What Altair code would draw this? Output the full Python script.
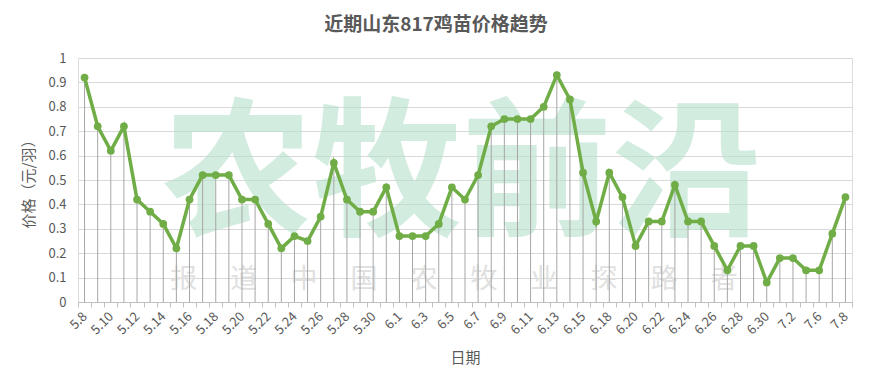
import altair as alt
import pandas as pd

dates = ["5.8", "5.9", "5.10", "5.11", "5.12", "5.13", "5.14", "5.15", "5.16", "5.17",
         "5.18", "5.19", "5.20", "5.21", "5.22", "5.23", "5.24", "5.25", "5.26", "5.27",
         "5.28", "5.29", "5.30", "5.31",
         "6.1", "6.2", "6.3", "6.4", "6.5", "6.6", "6.7", "6.8", "6.9", "6.10",
         "6.11", "6.12", "6.13", "6.14", "6.15", "6.16",
         "6.18", "6.19", "6.20", "6.21", "6.22", "6.23", "6.24", "6.25", "6.26", "6.27",
         "6.28", "6.29", "6.30",
         "7.1", "7.2", "7.4", "7.6", "7.7", "7.8"]

prices = [0.92, 0.72, 0.62, 0.72, 0.42, 0.37, 0.32, 0.22, 0.42, 0.52,
          0.52, 0.52, 0.42, 0.42, 0.32, 0.22, 0.27, 0.25, 0.35, 0.57,
          0.42, 0.37, 0.37, 0.47,
          0.27, 0.27, 0.27, 0.32, 0.47, 0.42, 0.52, 0.72, 0.75, 0.75,
          0.75, 0.80, 0.93, 0.83, 0.53, 0.33,
          0.53, 0.43, 0.23, 0.33, 0.33, 0.48, 0.33, 0.33, 0.23, 0.13,
          0.23, 0.23, 0.08,
          0.18, 0.18, 0.13, 0.13, 0.28, 0.43]

tick_labels = ["5.8", "5.10", "5.12", "5.14", "5.16", "5.18", "5.20", "5.22", "5.24",
               "5.26", "5.28", "5.30", "6.1", "6.3", "6.5", "6.7", "6.9", "6.11",
               "6.13", "6.15", "6.18", "6.20", "6.22", "6.24", "6.26", "6.28",
               "6.30", "7.2", "7.6", "7.8"]

y_ticks = [0, 0.1, 0.2, 0.3, 0.4, 0.5, 0.6, 0.7, 0.8, 0.9, 1.0]

title_text = "近期山东817鸡苗价格趋势"
y_title = "价格（元/羽）"
x_title = "日期"
watermark_big = "农牧前沿"
watermark_small = "　 ".join(list("报道中国农牧业探路者"))

df = pd.DataFrame({"date": dates, "price": prices, "zero": [0.0] * len(dates)})
wm_df = pd.DataFrame({"big": [watermark_big], "small": [watermark_small]})

FONT = "Noto Sans CJK SC"
GREEN = "#70ad47"
TEXT = "#595959"

label_list = ",".join("'" + t + "'" for t in tick_labels)
label_expr = f"indexof([{label_list}], datum.label) >= 0 ? datum.label : ''"

x_enc = alt.X(
    "date:N",
    sort=dates,
    scale=alt.Scale(type="band", paddingInner=0, paddingOuter=0),
    axis=alt.Axis(
        title=x_title,
        labelAngle=-45,
        labelAlign="right",
        labelBaseline="middle",
        labelExpr=label_expr,
        labelFontSize=13,
        labelColor=TEXT,
        labelPadding=7,
        labelFont=FONT,
        tickBand="extent",
        tickColor="#bfbfbf",
        tickSize=5,
        domainColor="#bfbfbf",
        grid=False,
        titleFontSize=15,
        titleFontWeight="normal",
        titleColor=TEXT,
        titleFont=FONT,
        titlePadding=14,
    ),
)

y_enc = alt.Y(
    "price:Q",
    scale=alt.Scale(domain=[0, 1]),
    axis=alt.Axis(
        title=y_title,
        values=y_ticks,
        labelExpr="format(datum.value, '.1~f')",
        labelFontSize=13,
        labelColor=TEXT,
        labelFont=FONT,
        labelPadding=12,
        ticks=False,
        domain=False,
        gridColor="#d9d9d9",
        titleFontSize=15,
        titleFontWeight="normal",
        titleColor=TEXT,
        titleFont=FONT,
        titlePadding=11,
    ),
)

base = alt.Chart(df)

wm_big = alt.Chart(wm_df).mark_text(
    font=FONT, fontSize=150, fontWeight="bold",
    color="#b5e0cb", opacity=0.6, align="center", baseline="middle"
).encode(text="big:N", x=alt.value(384), y=alt.value(121))

wm_small = alt.Chart(wm_df).mark_text(
    font=FONT, fontSize=27,
    color="#e0e0e0", align="center", baseline="middle"
).encode(text="small:N", x=alt.value(376), y=alt.value(222))

rules = base.mark_rule(color="#a6a6a6", strokeWidth=1).encode(
    x=x_enc, y=y_enc, y2="zero:Q"
)

line = base.mark_line(color=GREEN, strokeWidth=3.5).encode(x=x_enc, y=y_enc)

points = base.mark_circle(color=GREEN, size=60, opacity=1).encode(x=x_enc, y=y_enc)

chart = alt.layer(wm_big, wm_small, rules, line, points).properties(
    width=774,
    height=244,
    padding={"left": 70, "top": 50, "right": 10, "bottom": 75},
    autosize=alt.AutoSizeParams(type="none"),
    title=alt.TitleParams(
        text=title_text, font=FONT, fontSize=19, fontWeight="bold",
        color=TEXT, anchor="middle", dx=-29, offset=17
    ),
).configure_view(stroke=None).configure(background="white")

chart.save("out.html", embed_options={"renderer": "svg", "actions": False})
